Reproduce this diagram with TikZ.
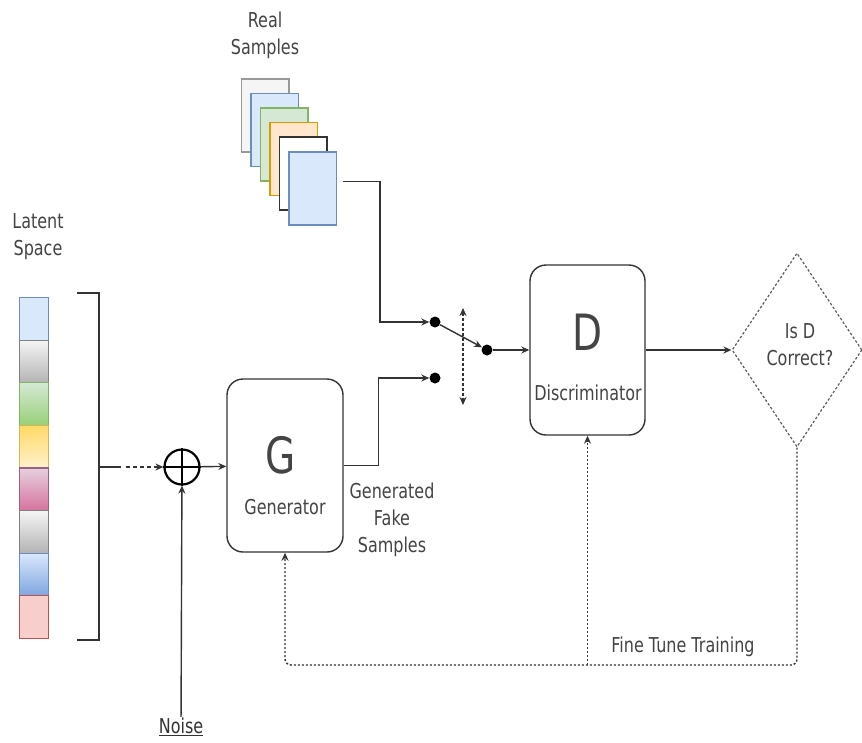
\documentclass[tikz,border=0pt]{standalone}
\usepackage{fontspec}
\setmainfont{DejaVu Sans}[FakeStretch=0.78]
\usetikzlibrary{arrows.meta,shapes.geometric,calc}
\definecolor{txt}{HTML}{444444}
\definecolor{ln}{HTML}{333333}
\definecolor{bluef}{HTML}{DAE8FC}\definecolor{blued}{HTML}{6C8EBF}\definecolor{blueg}{HTML}{7EA6E0}
\definecolor{greenf}{HTML}{D5E8D4}\definecolor{greend}{HTML}{82B366}\definecolor{greeng}{HTML}{97D077}
\definecolor{orangef}{HTML}{FFE6CC}\definecolor{oranged}{HTML}{D79B00}
\definecolor{greyf}{HTML}{F5F5F5}\definecolor{greyd}{HTML}{999999}\definecolor{greyg}{HTML}{B3B3B3}
\definecolor{yellowf}{HTML}{FFF2CC}\definecolor{yellowd}{HTML}{D6B656}\definecolor{yellowg}{HTML}{FFD966}
\definecolor{pinkf}{HTML}{E6D0DE}\definecolor{pinkd}{HTML}{996185}\definecolor{pinkg}{HTML}{D5739D}
\definecolor{redf}{HTML}{F8CECC}\definecolor{redd}{HTML}{B85450}
\begin{document}
\begin{tikzpicture}[x=1pt,y=-1pt,
  conn/.style={draw=ln,line width=1.4pt,-{Stealth[length=8pt,width=7pt]}},
  fbline/.style={draw=ln,line width=1.4pt,dash pattern=on 2pt off 2pt},
  box/.style={draw=ln,line width=1.4pt,rounded corners=16pt,fill=white,inner sep=0pt},
  sample/.style={line width=1.6pt,minimum width=47.5pt,minimum height=73pt,anchor=north west,inner sep=0pt},
  cell/.style={line width=1.2pt,minimum width=29pt,minimum height=42.6pt,anchor=north west,inner sep=0pt},
  dot/.style={circle,fill=black,inner sep=0pt,minimum size=11pt},
  lbl/.style={text=txt,font=\fontsize{20.5}{27}\selectfont,align=center,inner sep=0pt},
  big/.style={text=txt,font=\fontsize{50}{50}\selectfont,inner sep=0pt}]
\useasboundingbox (0,0) rectangle (862,742);
\fill[white] (0,0) rectangle (862,742);

% Real samples
\node[lbl] (real) at (265,35) {Real\\Samples};
\node[sample,draw=greyd,fill=greyf] (r1) at (240.5,78) {};
\node[sample,draw=blued,fill=bluef] (r2) at (250,92.6) {};
\node[sample,draw=greend,fill=greenf] (r3) at (259.5,107.2) {};
\node[sample,draw=oranged,fill=orangef] (r4) at (269,121.8) {};
\node[sample,draw=ln,fill=white] (r5) at (278.5,136.4) {};
\node[sample,draw=blued,fill=bluef] (r6) at (288,151) {};

% Latent space
\node[lbl] (lat) at (38,237) {Latent\\Space};
\node[cell,draw=blued,fill=bluef] (l1) at (19,297) {};
\node[cell,draw=gray,top color=greyf,bottom color=greyg] (l2) at (19,339.6) {};
\node[cell,draw=greend,top color=greenf,bottom color=greeng] (l3) at (19,382.2) {};
\node[cell,draw=yellowd,top color=yellowg,bottom color=yellowf] (l4) at (19,424.8) {};
\node[cell,draw=pinkd,top color=pinkf,bottom color=pinkg] (l5) at (19,467.4) {};
\node[cell,draw=gray,top color=greyf,bottom color=greyg] (l6) at (19,510) {};
\node[cell,draw=blued,top color=bluef,bottom color=blueg] (l7) at (19,552.6) {};
\node[cell,draw=redd,fill=redf] (l8) at (19,595.2) {};
\draw[ln,line width=1.6pt] (77,293) -- (99,293) -- (99,640) -- (77,640);
\coordinate (br) at (99,467);
\coordinate (brd) at (126,467);

% Sum
\node[circle,draw=black,line width=2.2pt,minimum size=35pt,inner sep=0pt] (plus) at (182,467) {};
\draw[black,line width=2.2pt] (plus.north) -- (plus.south) (plus.west) -- (plus.east);
\node[text=ln,font=\fontsize{20.5}{24}\selectfont,inner sep=1pt] (noise) at (181,727) {\underline{Noise}};

% Generator
\node[box,minimum width=116pt,minimum height=173pt] (G) at (285,465.5) {};
\node[big] (Gt) at (281,455) {G};
\node[lbl] (Gl) at (285,507) {Generator};
\node[lbl] (fake) at (392,520) {Generated\\Fake\\Samples};

% Switch
\node[dot] (s1) at (435,322) {};
\node[dot] (s2) at (435,378) {};
\node[dot] (s3) at (487,350) {};
\coordinate (swt) at (463,308);
\coordinate (swb) at (463,405);

% Discriminator
\node[box,minimum width=115pt,minimum height=170pt] (D) at (587.5,350) {};
\node[big] (Dt) at (588,332) {D};
\node[lbl] (Dl) at (588,393) {Discriminator};

% Decision
\node[diamond,draw=ln!80,line width=1.2pt,dash pattern=on 2.5pt off 2pt,minimum width=130pt,minimum height=194pt,inner sep=0pt] (dia) at (797,350) {};
\node[lbl] (dq) at (800,345) {Is D\\Correct?};

\node[lbl] (ft) at (683,647) {Fine Tune Training};
\coordinate (fb) at (0,665);

% Connectors
\draw[conn] ([xshift=6pt,yshift=7pt]r6.east) -- ++(37,0) |- (s1);
\draw[conn] (G.east) -- ++(35,0) |- (s2);
\draw[conn] (s1) -- (s3);
\draw[conn] (s3) -- (D);
\draw[draw=ln,line width=1.3pt,dash pattern=on 3pt off 2pt,{Stealth[length=8pt,width=7pt]}-{Stealth[length=8pt,width=7pt]}] (swt) -- (swb);
\draw[ln,line width=1.4pt] (br) -- ++(22,0);
\draw[conn,dash pattern=on 4pt off 3pt] (brd) -- (plus);
\draw[conn] (plus) -- (G);
\draw[conn] (noise) -- (plus);
\draw[conn] (D) -- (dia);
\draw[fbline,-{Stealth[length=8pt,width=7pt]},rounded corners=6pt] (dia.south) -- (dia.south |- fb) -- (G.south |- fb) -- (G.south);
\draw[fbline,-{Stealth[length=8pt,width=7pt]}] (D.south |- fb) -- (D.south);
\end{tikzpicture}
\end{document}
